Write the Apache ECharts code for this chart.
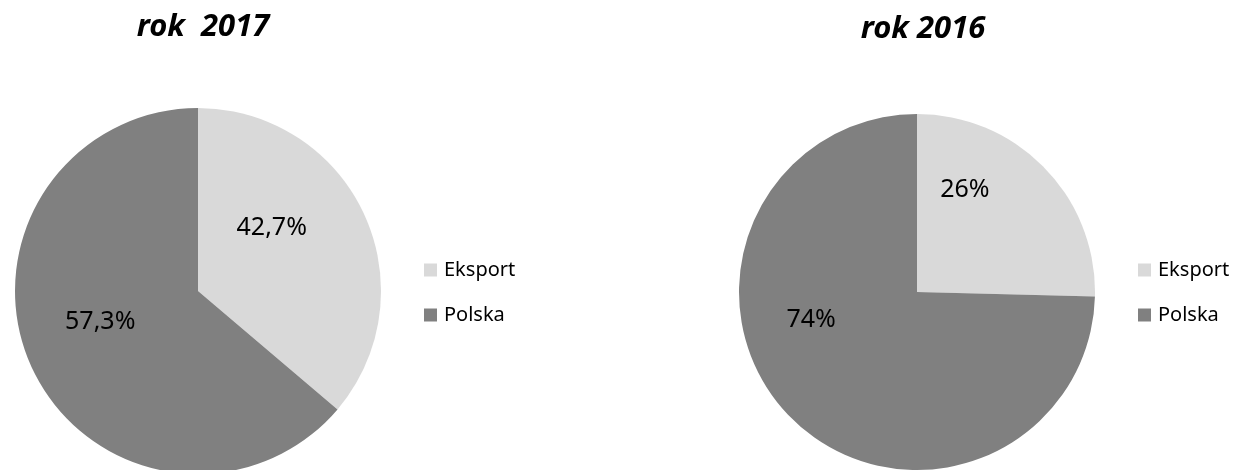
<!DOCTYPE html>
<html>
<head>
<meta charset="utf-8">
<script src="https://cdn.jsdelivr.net/npm/echarts@6/dist/echarts.min.js"></script>
<style>html,body{margin:0;padding:0;background:#fff}#c{width:1245px;height:470px}</style>
</head>
<body>
<div id="c"></div>
<script>
const categories = ['Eksport', 'Polska'];
const titles = ['rok  2017', 'rok 2016'];
// slice sizes as drawn in the picture (percent)
const values2017 = [36.2, 63.8];
const values2016 = [25.4, 74.6];
// label texts as printed on the picture
const labels2017 = ['42,7%', '57,3%'];
const labels2016 = ['26%', '74%'];

const colors = ['#d9d9d9', '#808080'];
const FONT = '"Noto Sans", "Open Sans", sans-serif';

function pieSeries(values, labels, center, radius, offsets) {
  return {
    type: 'pie',
    center: center,
    radius: radius,
    startAngle: 90,
    clockwise: true,
    animation: false,
    silent: true,
    itemStyle: { borderWidth: 0 },
    labelLine: { show: false },
    data: categories.map((name, i) => ({
      name: name,
      value: values[i],
      itemStyle: { color: colors[i] },
      label: {
        show: true,
        position: 'inside',
        formatter: labels[i],
        color: '#000',
        fontSize: 25,
        fontFamily: FONT,
        offset: offsets[i]
      }
    }))
  };
}

const legendText = { fontSize: 20, lineHeight: 20, fontFamily: FONT, color: '#000', padding: [0, 0, 0, 2] };

const chart = echarts.init(document.getElementById('c'), null, { renderer: 'canvas' });
chart.setOption({
  backgroundColor: '#fff',
  title: [
    { text: titles[0], left: 198, top: 7, textAlign: 'center',
      textStyle: { fontSize: 31, fontWeight: 'bold', fontStyle: 'italic', fontFamily: FONT, color: '#000' } },
    { text: titles[1], left: 918, top: 9, textAlign: 'center',
      textStyle: { fontSize: 31, fontWeight: 'bold', fontStyle: 'italic', fontFamily: FONT, color: '#000' } }
  ],
  legend: [
    { seriesIndex: 0, data: categories, orient: 'vertical', left: 424, top: 260, padding: 0, itemWidth: 13, itemHeight: 13, itemGap: 25,
      icon: 'rect', selectedMode: false, textStyle: legendText },
    { seriesIndex: 1, data: categories, orient: 'vertical', left: 1138, top: 260, padding: 0, itemWidth: 13, itemHeight: 13, itemGap: 25,
      icon: 'rect', selectedMode: false, textStyle: legendText }
  ],
  series: [
    pieSeries(values2017, labels2017, [198, 291], 183, [[-12, -23], [-12, -9]]),
    pieSeries(values2016, labels2016, [917, 292], 178, [[-18, -38], [-40, -36]])
  ]
});
</script>
</body>
</html>
